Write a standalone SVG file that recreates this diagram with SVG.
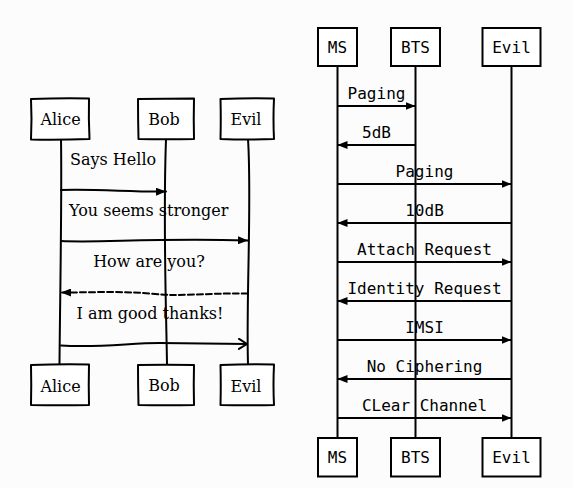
<svg xmlns="http://www.w3.org/2000/svg" width="573" height="488" viewBox="0 0 573 488">
<style>
.hd{fill:#fff;stroke:#000;stroke-width:2;stroke-linejoin:round}
.ser{font-family:"DejaVu Serif",serif;font-size:16px;fill:#000}
.mono{font-family:"DejaVu Sans Mono",monospace;font-size:16px;fill:#000}
.box{fill:#fff;stroke:#000;stroke-width:2}
.ln{fill:none;stroke:#000;stroke-width:2}
.hl{fill:none;stroke:#000;stroke-width:2;stroke-linecap:round}
</style>
<defs>
<marker id="tri" viewBox="0 0 10 8" refX="10" refY="4" markerWidth="10" markerHeight="8" markerUnits="userSpaceOnUse" orient="auto"><path d="M0,0 L10,4 L0,8 Z" fill="#000"/></marker>
<marker id="open" viewBox="0 0 10 12" refX="9" refY="6" markerWidth="10" markerHeight="12" markerUnits="userSpaceOnUse" orient="auto"><path d="M1,1 L9,6 L1,11" fill="none" stroke="#000" stroke-width="2" stroke-linecap="round"/></marker>
</defs>
<rect width="573" height="488" fill="#fcfcfc"/>
<g id="connectors">
<g id="lifelines-left">
<path class="hl" d="M61,139 C62,200 60,300 59.5,364"/>
<path class="hl" d="M166,139 C163,220 166,300 167,364"/>
<path class="hl" d="M248,139 C252,200 246,300 248,364"/>
</g>
<g id="lifelines-right">
<path class="ln" d="M337.5,66 V438"/>
<path class="ln" d="M415.5,66 V438"/>
<path class="ln" d="M511.5,66 V438"/>
</g>
<g id="messages-left">
<path class="hl" d="M61,190 C100,189 130,192 166,191.5" marker-end="url(#tri)"/>
<path class="hl" d="M61,241 C100,243 150,238 248,240.5" marker-end="url(#tri)"/>
<path class="hl" d="M248,293.5 C200,293 180,297 150,293.5 C120,291 90,292.5 61,292.5" stroke-dasharray="6,3" marker-end="url(#tri)"/>
<path class="hl" d="M61,345.5 C100,348 130,343 160,343 L247,344" marker-end="url(#open)"/>
</g>
<g id="messages-right">
<path class="ln" d="M337.5,106 H415.5" marker-end="url(#tri)"/>
<path class="ln" d="M415.5,145 H337.5" marker-end="url(#tri)"/>
<path class="ln" d="M337.5,184 H511.5" marker-end="url(#tri)"/>
<path class="ln" d="M511.5,223 H337.5" marker-end="url(#tri)"/>
<path class="ln" d="M337.5,262 H511.5" marker-end="url(#tri)"/>
<path class="ln" d="M511.5,301 H337.5" marker-end="url(#tri)"/>
<path class="ln" d="M337.5,340 H511.5" marker-end="url(#tri)"/>
<path class="ln" d="M511.5,379 H337.5" marker-end="url(#tri)"/>
<path class="ln" d="M337.5,418 H511.5" marker-end="url(#tri)"/>
</g>
<g id="labels-left" class="ser">
<text x="70" y="165">Says Hello</text>
<text x="69" y="216">You seems stronger</text>
<text x="149" y="267" text-anchor="middle">How are you?</text>
<text x="150" y="318.5" text-anchor="middle">I am good thanks!</text>
</g>
<g id="labels-right" class="mono" text-anchor="middle">
<text x="376.5" y="98.5">Paging</text>
<text x="376.5" y="137.5">5dB</text>
<text x="424.5" y="176.5">Paging</text>
<text x="424.5" y="215.5">10dB</text>
<text x="424.5" y="254.5">Attach Request</text>
<text x="424.5" y="293.5">Identity Request</text>
<text x="424.5" y="332.5">IMSI</text>
<text x="424.5" y="371.5">No Ciphering</text>
<text x="424.5" y="410.5">CLear Channel</text>
</g>
</g>
<g id="alice-top"><path class="hd" d="M31,99 Q60,98 89,98.5 Q88.5,119 89.5,139 Q60,140 31,139.5 Q32,119 31,99 Z"/><text class="ser" x="60.5" y="124.5" text-anchor="middle">Alice</text></g>
<g id="bob-top"><path class="hd" d="M138,99 Q166,98.5 194,98.5 Q193.5,119 194,139 Q166,139.5 138.5,139 Q138,119 138,99 Z"/><text class="ser" x="164" y="125" text-anchor="middle">Bob</text></g>
<g id="evil-top"><path class="hd" d="M220.5,99 Q247,98 274,98.5 Q273,119 274,139 Q247,140 220.5,139 Q221,119 220.5,99 Z"/><text class="ser" x="246" y="125" text-anchor="middle">Evil</text></g>
<g id="alice-bottom"><path class="hd" d="M31,365 Q60,364 89,364.5 Q88.5,385 89,405 Q60,405.5 31,405 Q31.5,385 31,365 Z"/><text class="ser" x="60.5" y="391.5" text-anchor="middle">Alice</text></g>
<g id="bob-bottom"><path class="hd" d="M138,365 Q166,364.5 194,365 Q193.5,385 194,405 Q166,405.5 138.5,405 Q138,385 138,365 Z"/><text class="ser" x="164" y="390.5" text-anchor="middle">Bob</text></g>
<g id="evil-bottom"><path class="hd" d="M220.5,365 Q247,364 274,364.5 Q273,385 274,405 Q247,405.5 220.5,405 Q221,385 220.5,365 Z"/><text class="ser" x="246" y="391.5" text-anchor="middle">Evil</text></g>
<g id="ms-top"><rect class="box" x="318" y="28" width="39" height="38"/><text class="mono" x="337.5" y="53" text-anchor="middle">MS</text></g>
<g id="bts-top"><rect class="box" x="391" y="28" width="49" height="38"/><text class="mono" x="415.5" y="53" text-anchor="middle">BTS</text></g>
<g id="evil2-top"><rect class="box" x="482.5" y="28" width="58" height="38"/><text class="mono" x="511.5" y="53" text-anchor="middle">Evil</text></g>
<g id="ms-bottom"><rect class="box" x="318" y="438" width="39" height="38.5"/><text class="mono" x="337.5" y="463" text-anchor="middle">MS</text></g>
<g id="bts-bottom"><rect class="box" x="391" y="438" width="49" height="38.5"/><text class="mono" x="415.5" y="463" text-anchor="middle">BTS</text></g>
<g id="evil2-bottom"><rect class="box" x="482.5" y="438" width="58" height="38.5"/><text class="mono" x="511.5" y="463" text-anchor="middle">Evil</text></g>
</svg>
